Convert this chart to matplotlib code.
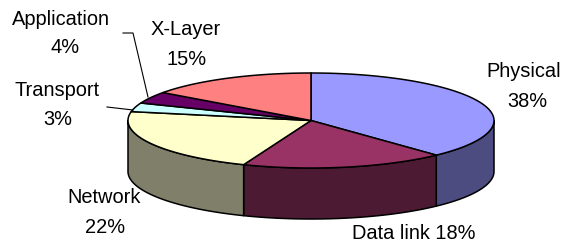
import numpy as np
import matplotlib
matplotlib.use("Agg")
import matplotlib.pyplot as plt
from matplotlib.patches import Polygon

categories = ["Physical", "Data link", "Network", "Transport", "Application", "X-Layer"]
values = [38, 18, 22, 3, 4, 15]
top_colors = ["#9999FF", "#993366", "#FFFFCC", "#CCFFFF", "#660066", "#FF8080"]
side_colors = ["#4C4C80", "#4D1A33", "#80806A", "#668080", "#330033", "#804040"]

W, H = 565, 248
fig = plt.figure(figsize=(W / 100, H / 100), dpi=100)
ax = fig.add_axes([0, 0, 1, 1])
ax.set_xlim(0, W)
ax.set_ylim(H, 0)
ax.axis("off")

cx, cy, a, b, depth = 311, 120.5, 183, 47.5, 51

def rim(t):
    t = np.radians(t)
    return cx + a * np.cos(t), cy - b * np.sin(t)

fr = np.array(values, float) / sum(values)
starts = 90 - 360 * np.concatenate([[0], np.cumsum(fr)[:-1]])
ends = starts - 360 * fr

# side faces (front half: angles between -180 and 0)
for s, e, c in zip(starts, ends, side_colors):
    lo, hi = max(e, -180), min(s, 0)
    if hi <= lo:
        continue
    t = np.linspace(hi, lo, 100)
    x, y = rim(t)
    xs = np.concatenate([x, x[::-1]])
    ys = np.concatenate([y, (y + depth)[::-1]])
    ax.add_patch(Polygon(np.column_stack([xs, ys]), closed=True, facecolor=c,
                         edgecolor="black", lw=1.1, joinstyle="round"))

# top faces
for s, e, c in zip(starts, ends, top_colors):
    t = np.linspace(s, e, 150)
    x, y = rim(t)
    xs = np.concatenate([[cx], x])
    ys = np.concatenate([[cy], y])
    ax.add_patch(Polygon(np.column_stack([xs, ys]), closed=True, facecolor=c,
                         edgecolor="black", lw=1.1, joinstyle="round"))

font = dict(family=["Liberation Sans", "DejaVu Sans"], fontsize=14.4, color="black")

def lab(x, y, s):
    ax.text(x, y, s, ha="center", va="baseline", **font)

labels = [
    (524, 77, "Physical"), (527, 107, f"{values[0]}%"),
    (414, 239, f"{categories[1]} {values[1]}%"),
    (104, 203, "Network"), (105, 233, f"{values[2]}%"),
    (57, 96, "Transport"), (58, 125, f"{values[3]}%"),
    (61, 25, "Application"), (65, 53, f"{values[4]}%"),
    (186, 35, "X-Layer"), (187, 65, f"{values[5]}%"),
]
for x, y, s in labels:
    lab(x, y, s)

# leader lines
ax.plot([123, 133, 148], [33, 33, 97], color="black", lw=0.8)
ax.plot([107, 133], [107, 110], color="black", lw=0.8)

fig.savefig("out.png", dpi=100)
